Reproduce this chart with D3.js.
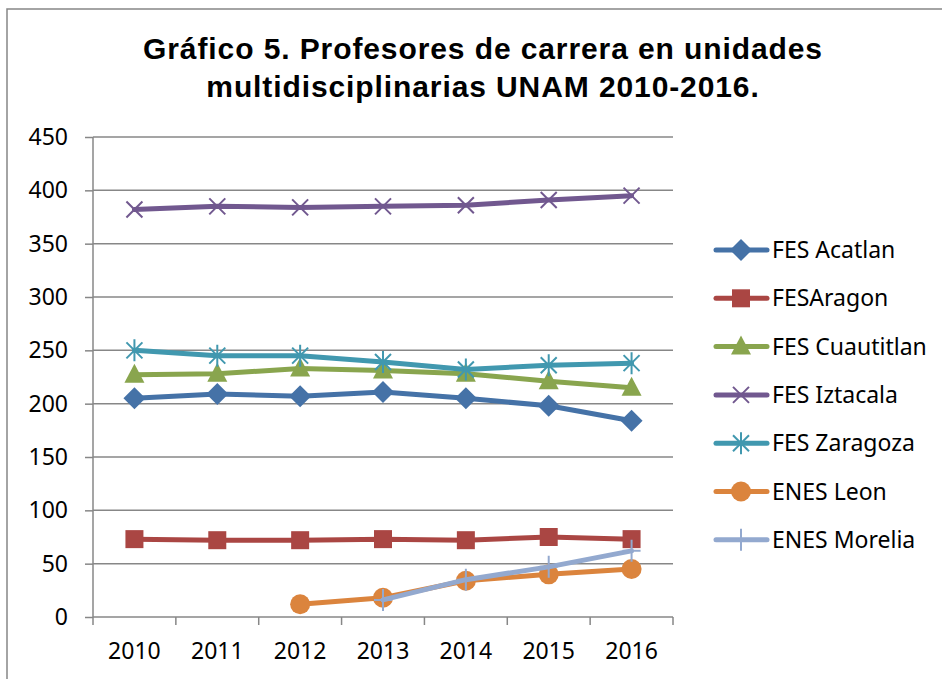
<!DOCTYPE html>
<html>
<head>
<meta charset="utf-8">
<script src="https://cdn.jsdelivr.net/npm/d3@7"></script>
<style>
  body { margin: 0; background: #fff; }
  svg { display: block; }
</style>
</head>
<body>
<svg id="chart" width="942" height="679"></svg>
<script>
// data
var years = ["2010", "2011", "2012", "2013", "2014", "2015", "2016"];
var yTicks = [0, 50, 100, 150, 200, 250, 300, 350, 400, 450];

var acatlan    = [205, 209, 207, 211, 205, 198, 184];
var aragon     = [73, 72, 72, 73, 72, 75, 73];
var cuautitlan = [227, 228, 233, 231, 228, 221, 215];
var iztacala   = [382, 385, 384, 385, 386, 391, 395];
var zaragoza   = [250, 245, 245, 239, 232, 236, 238];
var leon       = [null, null, 12, 18, 34, 40, 45];
var morelia    = [null, null, null, 16, 35, 47, 62];

var seriesNames  = ["FES Acatlan", "FESAragon", "FES Cuautitlan", "FES Iztacala", "FES Zaragoza", "ENES Leon", "ENES Morelia"];
var seriesValues = [acatlan, aragon, cuautitlan, iztacala, zaragoza, leon, morelia];
var seriesColors = ["#4572A7", "#AA4643", "#89A54E", "#71588F", "#4198AF", "#DB843D", "#93A9CF"];
var seriesMarks  = ["diamond", "square", "triangle", "x", "star", "circle", "plus"];

var svg = d3.select("#chart");
var pLeft = 93, pRight = 673, pTop = 137, pBottom = 617;
var labelFont = "'Noto Sans', sans-serif";

// outer frame
svg.append("rect").attr("x", 7).attr("y", 9).attr("width", 980).attr("height", 720)
  .attr("fill", "#fff").attr("stroke", "#868686").attr("stroke-width", 1.5);

// title
var title = svg.append("text").attr("text-anchor", "middle")
  .style("font-family", "'Liberation Sans', Arial, sans-serif")
  .style("font-weight", "bold").style("font-size", "30px").style("letter-spacing", "0.9px").attr("fill", "#000");
title.append("tspan").attr("x", 483).attr("y", 59).text("Gráfico 5. Profesores de carrera en unidades");
title.append("tspan").attr("x", 483).attr("y", 97).text("multidisciplinarias UNAM 2010-2016.");

var x = d3.scaleBand().domain(years).range([pLeft, pRight]);
var y = d3.scaleLinear().domain([0, 450]).range([pBottom, pTop]);

// gridlines
svg.append("g").selectAll("line").data(yTicks.slice(1)).join("line")
  .attr("x1", pLeft).attr("x2", pRight)
  .attr("y1", function(d) { return y(d); }).attr("y2", function(d) { return y(d); })
  .attr("stroke", "#878787").attr("stroke-width", 1.5);

// y axis
var yAxis = svg.append("g").attr("transform", "translate(" + pLeft + ",0)")
  .call(d3.axisLeft(y).tickValues(yTicks).tickSize(8).tickPadding(17));
yAxis.select(".domain").attr("stroke", "#878787").attr("stroke-width", 1.5).attr("d", "M0," + pTop + "V" + pBottom);
yAxis.selectAll(".tick line").attr("stroke", "#878787").attr("stroke-width", 1.5);
yAxis.selectAll("text").style("font-family", labelFont).style("font-size", "23px").attr("fill", "#000");

// x axis
var xAxis = svg.append("g").attr("transform", "translate(0," + pBottom + ")")
  .call(d3.axisBottom(x).tickSize(0).tickPadding(26));
xAxis.select(".domain").attr("stroke", "#878787").attr("stroke-width", 1.5).attr("d", "M" + pLeft + ",0H" + pRight);
xAxis.selectAll("text").style("font-family", labelFont).style("font-size", "23px").attr("fill", "#000");
svg.append("g").selectAll("line").data(d3.range(years.length + 1)).join("line")
  .attr("x1", function(i) { return pLeft + i * x.step(); }).attr("x2", function(i) { return pLeft + i * x.step(); })
  .attr("y1", pBottom).attr("y2", pBottom + 8)
  .attr("stroke", "#878787").attr("stroke-width", 1.5);

function cx(i) { return x(years[i]) + x.bandwidth() / 2; }

function drawMark(g, type, px, py, color) {
  if (type == "diamond") {
    g.append("path").attr("d", "M" + px + "," + (py - 11) + "L" + (px + 11) + "," + py + "L" + px + "," + (py + 11) + "L" + (px - 11) + "," + py + "Z").attr("fill", color);
  } else if (type == "square") {
    g.append("rect").attr("x", px - 9).attr("y", py - 9).attr("width", 18).attr("height", 18).attr("fill", color);
  } else if (type == "triangle") {
    g.append("path").attr("d", "M" + px + "," + (py - 11) + "L" + (px + 10) + "," + (py + 8) + "L" + (px - 10) + "," + (py + 8) + "Z").attr("fill", color);
  } else if (type == "circle") {
    g.append("circle").attr("cx", px).attr("cy", py).attr("r", 10).attr("fill", color);
  } else if (type == "x") {
    var r = 8;
    g.append("path").attr("d", "M" + (px - r) + "," + (py - r) + "L" + (px + r) + "," + (py + r) + "M" + (px - r) + "," + (py + r) + "L" + (px + r) + "," + (py - r))
      .attr("stroke", color).attr("stroke-width", 2).attr("fill", "none");
  } else if (type == "star") {
    var r = 8;
    g.append("path").attr("d", "M" + (px - r) + "," + (py - r) + "L" + (px + r) + "," + (py + r) + "M" + (px - r) + "," + (py + r) + "L" + (px + r) + "," + (py - r) + "M" + px + "," + (py - 11) + "V" + (py + 11))
      .attr("stroke", color).attr("stroke-width", 2).attr("fill", "none");
  } else if (type == "plus") {
    g.append("path").attr("d", "M" + px + "," + (py - 11) + "V" + (py + 11) + "M" + (px - 9) + "," + py + "H" + (px + 9))
      .attr("stroke", color).attr("stroke-width", 2).attr("fill", "none");
  }
}

var line = d3.line()
  .defined(function(d) { return d != null; })
  .x(function(d, i) { return cx(i); })
  .y(function(d) { return y(d); });

var plot = svg.append("g");
seriesValues.forEach(function(vals, k) {
  var g = plot.append("g");
  g.append("path").attr("d", line(vals)).attr("fill", "none")
    .attr("stroke", seriesColors[k]).attr("stroke-width", 5).attr("stroke-linecap", "round").attr("stroke-linejoin", "round");
  vals.forEach(function(v, i) {
    if (v != null) drawMark(g, seriesMarks[k], cx(i), y(v), seriesColors[k]);
  });
});

// legend
var legend = svg.append("g");
seriesNames.forEach(function(name, k) {
  var ly = 250 + k * 48.3;
  var g = legend.append("g");
  g.append("line").attr("x1", 716).attr("x2", 767).attr("y1", ly).attr("y2", ly)
    .attr("stroke", seriesColors[k]).attr("stroke-width", 5).attr("stroke-linecap", "round");
  drawMark(g, seriesMarks[k], 741, ly, seriesColors[k]);
  g.append("text").attr("x", 772).attr("y", ly).attr("dy", "0.35em")
    .style("font-family", labelFont).style("font-size", "23px").attr("fill", "#000").text(name);
});
</script>
</body>
</html>
